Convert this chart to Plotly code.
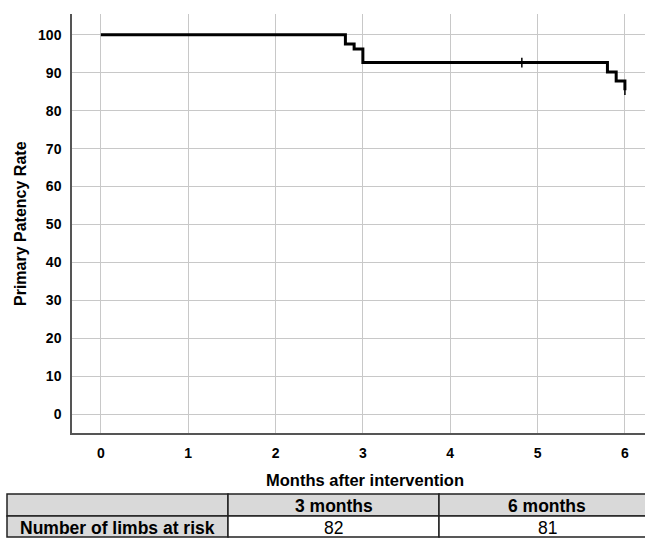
import plotly.graph_objects as go

# Kaplan-Meier step data (months, primary patency %)
months = [0, 2.8, 2.9, 3.0, 5.8, 5.9, 6.0]
patency = [100, 97.6, 96.3, 92.7, 90.2, 87.8, 85.4]
censor_months = [4.82, 6.0]
censor_patency = [92.7, 85.4]

x_ticks = [0, 1, 2, 3, 4, 5, 6]
y_ticks = [0, 10, 20, 30, 40, 50, 60, 70, 80, 90, 100]

table_header = ["", "3 months", "6 months"]
table_row = ["Number of limbs at risk", "82", "81"]

W, H = 645, 552
FONT = "Liberation Sans, Arial, sans-serif"

fig = go.Figure()
fig.add_trace(go.Scatter(
    x=months, y=patency, mode="lines", line=dict(shape="hv", color="black", width=3),
    showlegend=False, hoverinfo="skip"))
fig.add_trace(go.Scatter(
    x=censor_months, y=censor_patency, mode="markers",
    marker=dict(symbol="line-ns", size=7, line=dict(color="black", width=1.5)),
    showlegend=False, hoverinfo="skip"))

# ---- risk table drawn with shapes + annotations (pixel layout -> paper coords)
col_edges = [7, 228, 439, 660]
row_edges = [494, 516, 537]
px = lambda v: v / W
py = lambda v: 1 - v / H
shapes = []
annotations = []
for r, (row_vals, is_header) in enumerate([(table_header, True), (table_row, False)]):
    for c, val in enumerate(row_vals):
        grey = is_header or c == 0
        shapes.append(dict(
            type="rect", xref="paper", yref="paper",
            x0=px(col_edges[c]), x1=px(col_edges[c + 1]),
            y0=py(row_edges[r + 1]), y1=py(row_edges[r]),
            fillcolor="#d9d9d9" if grey else "white",
            line=dict(color="#222", width=1.5), layer="above"))
        if val:
            bold = is_header or c == 0
            annotations.append(dict(
                text="<b>%s</b>" % val if bold else val,
                x=px((col_edges[c] + col_edges[c + 1]) / 2) if c < 2 else px(547),
                y=py((row_edges[r] + row_edges[r + 1]) / 2 + 1),
                xref="paper", yref="paper", showarrow=False,
                xanchor="center", yanchor="middle",
                font=dict(size=17.5, family=FONT, color="black")))

annotations.append(dict(
    text="<b>Primary Patency Rate</b>", x=px(20), y=py(224),
    xref="paper", yref="paper", textangle=-90, showarrow=False,
    xanchor="center", yanchor="middle",
    font=dict(size=16, family=FONT, color="black")))
annotations.append(dict(
    text="<b>Months after intervention</b>", x=px(365), y=py(480),
    xref="paper", yref="paper", showarrow=False,
    xanchor="center", yanchor="middle",
    font=dict(size=16.5, family=FONT, color="black")))

fig.update_layout(
    width=W, height=H,
    margin=dict(l=0, r=0, t=0, b=0),
    paper_bgcolor="white", plot_bgcolor="white",
    font=dict(family=FONT, color="black"),
    xaxis=dict(
        domain=[px(72), 1.0], range=[-0.33, 6.23],
        tickvals=x_ticks, ticktext=[str(v) for v in x_ticks],
        showgrid=True, gridcolor="#c8c8c8", gridwidth=1.2,
        zeroline=False, showline=True, linecolor="#555", linewidth=1.5,
        ticks="", tickfont=dict(size=14, family=FONT, weight="bold"),
        ticklabelstandoff=6,
    ),
    yaxis=dict(
        domain=[py(433), py(14)], range=[-5, 105.5],
        tickvals=y_ticks, ticktext=[str(v) for v in y_ticks],
        showgrid=True, gridcolor="#c8c8c8", gridwidth=1.2,
        zeroline=False, showline=True, linecolor="#555", linewidth=1.5,
        ticks="", tickfont=dict(size=14, family=FONT, weight="bold"),
        ticklabelstandoff=6,
    ),
    shapes=shapes,
    annotations=annotations,
)

fig.write_html("out.html", config={"displayModeBar": False},
               post_script="document.body.style.margin='0';")
